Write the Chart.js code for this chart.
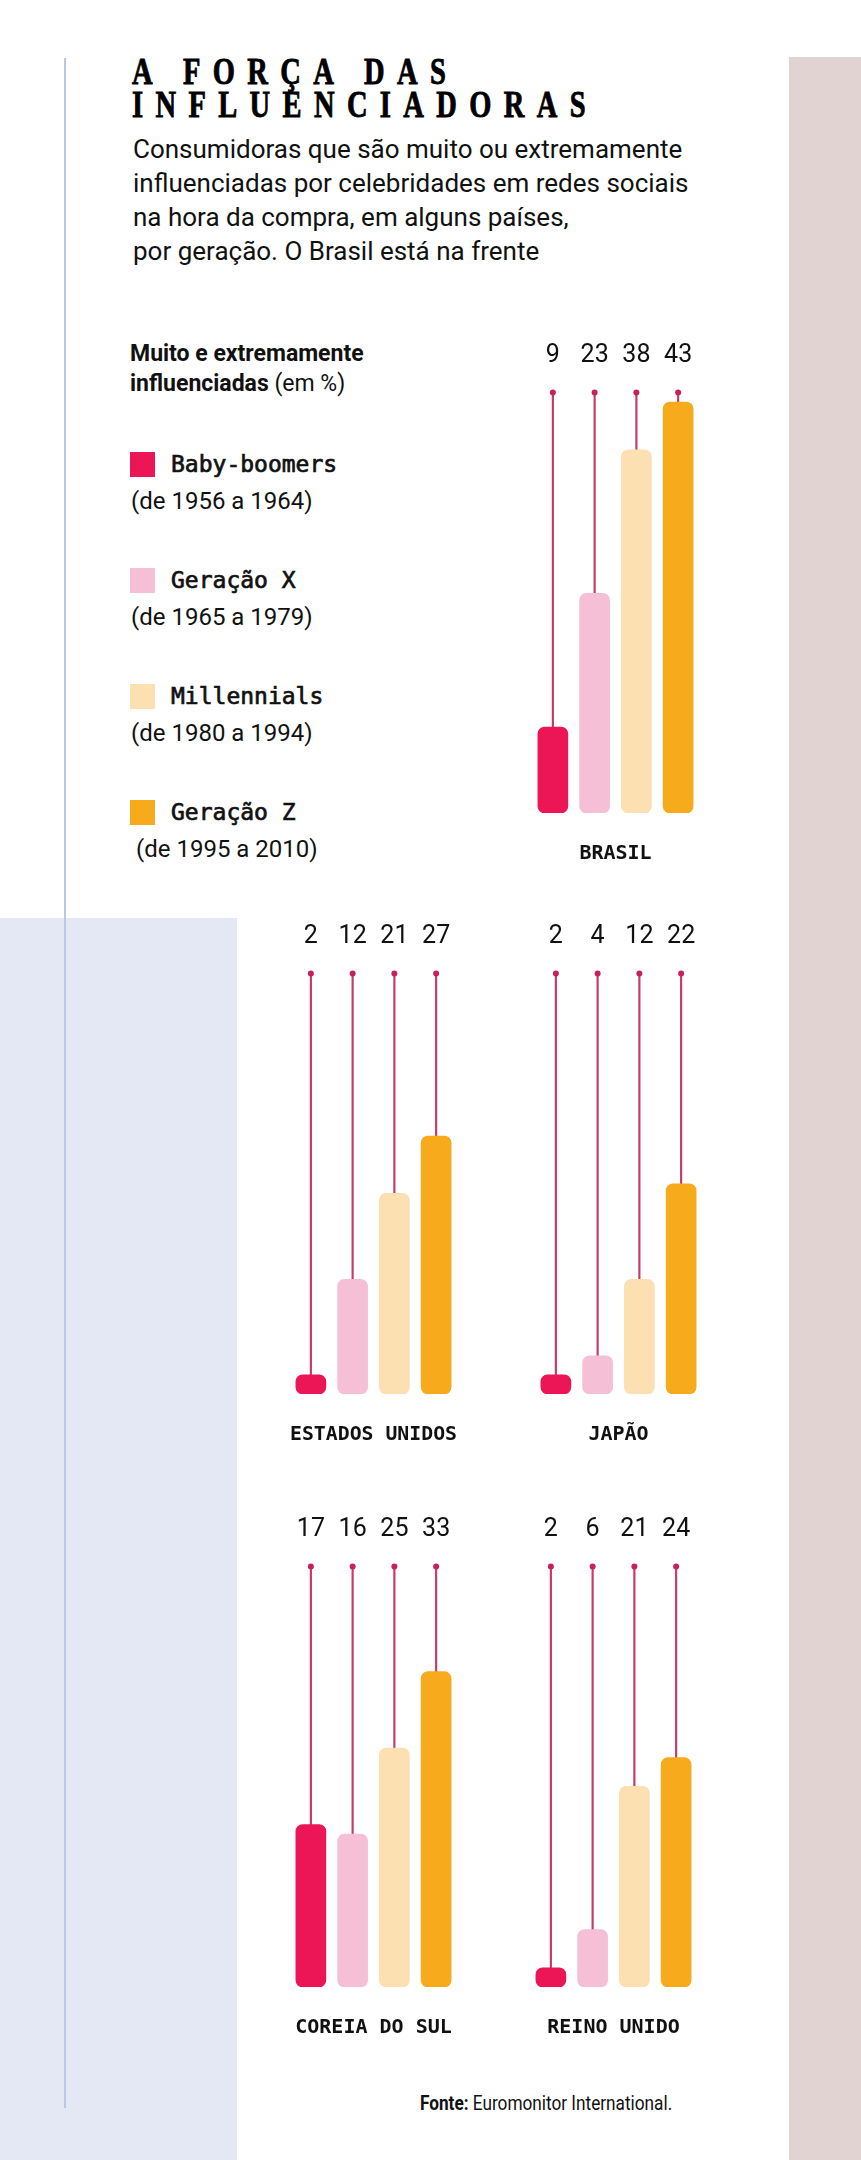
<!DOCTYPE html>
<html>
<head>
<meta charset="utf-8">
<script src="https://cdn.jsdelivr.net/npm/chart.js@4.4.1/dist/chart.umd.min.js"></script>
<style>
  html, body { margin: 0; padding: 0; }
  body { width: 861px; height: 2160px; position: relative; background: #fff; overflow: hidden; font-family: Roboto, sans-serif; color: #111; }
  .abs { position: absolute; }
  /* fundos */
  #faixa { left: 789px; top: 57px; width: 72px; height: 2103px; background: #e0d3d1; }
  #bloco { left: 0; top: 918px; width: 237px; height: 1242px; background: #e4e7f4; }
  #linha { left: 64px; top: 58px; width: 2px; height: 2050px; background: #b9c8e6; }
  .titulo { left: 132px; font-family: 'Liberation Serif', serif; font-weight: bold; font-size: 38px; line-height: 38px;
            letter-spacing: 16.5px; transform: scaleX(0.75); transform-origin: left top; white-space: nowrap;
            -webkit-text-stroke: 0.9px #000; color: #000; }
  #sub { left: 133px; top: 132px; font-size: 26px; line-height: 34px; white-space: nowrap; }
  #leg-titulo { left: 130px; top: 339px; font-size: 23px; line-height: 30px; white-space: nowrap; }
  .quad { width: 25px; height: 25px; }
  .nome { font-family: 'DejaVu Sans Mono', monospace; font-size: 23px; line-height: 30px; -webkit-text-stroke: 0.7px #111; white-space: nowrap; }
  .anos { font-size: 24px; line-height: 30px; white-space: nowrap; }
  #fonte { left: 420px; top: 2089px; font-size: 20px; line-height: 28px; transform: scaleX(0.86); transform-origin: left top; white-space: nowrap; }
  canvas { position: absolute; }
</style>
</head>
<body>
<div id="faixa" class="abs"></div>
<div id="bloco" class="abs"></div>
<div id="linha" class="abs"></div>

<div class="abs titulo" style="top:52px">A FORÇA DAS</div>
<div class="abs titulo" style="top:85px">INFLUENCIADORAS</div>
<div id="sub" class="abs">Consumidoras que são muito ou extremamente<br>influenciadas por celebridades em redes sociais<br>na hora da compra, em alguns países,<br>por geração. O Brasil está na frente</div>

<div id="leg-titulo" class="abs"><b>Muito e extremamente<br>influenciadas</b> (em %)</div>
<div id="legenda"></div>

<div id="fonte" class="abs"><b>Fonte:</b> Euromonitor International.</div>

<canvas id="brasil" width="207" height="545"></canvas>
<canvas id="eua" width="207" height="545"></canvas>
<canvas id="japao" width="207" height="545"></canvas>
<canvas id="coreia" width="207" height="545"></canvas>
<canvas id="reino" width="207" height="545"></canvas>

<script>
// Dados (em %)
const geracoes = ['Baby-boomers', 'Geração X', 'Millennials', 'Geração Z'];
const periodos = ['(de 1956 a 1964)', '(de 1965 a 1979)', '(de 1980 a 1994)', '(de 1995 a 2010)'];
const brasil = [9, 23, 38, 43];
const estadosUnidos = [2, 12, 21, 27];
const japao = [2, 4, 12, 22];
const coreiaDoSul = [17, 16, 25, 33];
const reinoUnido = [2, 6, 21, 24];

const cores = ['#ec1556', '#f5bfd6', '#fde0b1', '#f7aa1c'];
const corHaste = '#c43a6b';
const TOPO_HASTE = 44;  // altura dos pontinhos
const Y_MAX = 45;

// Legenda em HTML
const legTops = [452, 568, 684, 800];
const legenda = document.getElementById('legenda');
geracoes.forEach((g, i) => {
  const t = legTops[i];
  legenda.insertAdjacentHTML('beforeend',
    `<div class="abs quad" style="left:130px;top:${t}px;background:${cores[i]}"></div>` +
    `<div class="abs nome" style="left:171px;top:${t - 3}px">${g}</div>` +
    `<div class="abs anos" style="left:${i === 3 ? 136 : 131}px;top:${t + 34}px">${periodos[i]}</div>`);
});

/* Um gráfico por país */
function grafico(id, valores, pais, left, base) {
  const cv = document.getElementById(id);
  cv.style.left = (left - 20) + 'px';
  cv.style.top = (base - 488) + 'px';
  new Chart(cv, {
    data: {
      labels: geracoes,
      datasets: [
        { // hastes
          type: 'bar',
          data: valores.map(v => [v, TOPO_HASTE]),
          backgroundColor: corHaste,
          barThickness: 1.5,
          grouped: false,
          order: 3
        },
        { // barras
          type: 'bar',
          data: valores,
          backgroundColor: cores,
          barThickness: 30,
          borderRadius: 7,
          borderSkipped: false,
          grouped: false,
          order: 2
        },
        { // pontinhos
          type: 'line',
          data: valores.map(() => TOPO_HASTE),
          showLine: false,
          pointRadius: 3,
          pointBackgroundColor: '#c8205a',
          pointBorderWidth: 0,
          clip: false,
          order: 1
        }
      ]
    },
    options: {
      responsive: false,
      animation: false,
      layout: { padding: { top: 4, bottom: 4, left: 20, right: 20 } },
      plugins: {
        legend: { display: false },
        tooltip: { enabled: false },
        title: {
          display: true,
          text: pais,
          position: 'bottom',
          color: '#111',
          font: { family: "'DejaVu Sans Mono', monospace", size: 20, weight: 'bold' },
          padding: { top: 29, bottom: 0 }
        }
      },
      scales: {
        x: {
          position: 'top',
          grid: { display: false, drawTicks: false },
          border: { display: false },
          ticks: {
            padding: 12,
            color: '#111',
            font: { family: 'Roboto, sans-serif', size: 25 },
            callback: (v, i) => String(valores[i])
          }
        },
        y: { display: false, min: 0, max: Y_MAX }
      }
    }
  });
}

grafico('brasil', brasil, 'BRASIL', 532, 813);
grafico('eua', estadosUnidos, 'ESTADOS UNIDOS', 290, 1394);
grafico('japao', japao, 'JAPÃO', 535, 1394);
grafico('coreia', coreiaDoSul, 'COREIA DO SUL', 290, 1987);
grafico('reino', reinoUnido, 'REINO UNIDO', 530, 1987);
</script>
</body>
</html>
